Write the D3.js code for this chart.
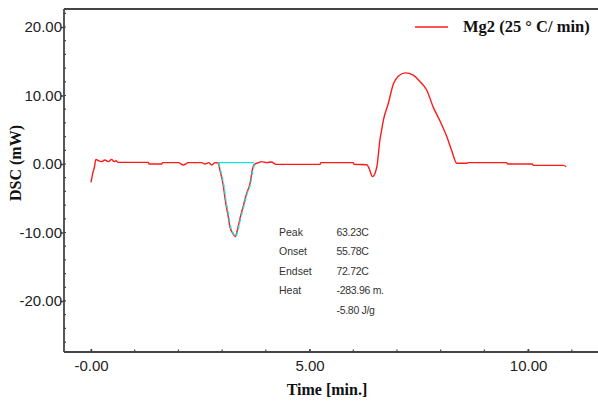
<!DOCTYPE html>
<html>
<head>
<meta charset="utf-8">
<script src="https://cdn.jsdelivr.net/npm/d3@7/dist/d3.min.js"></script>
<style>
  body { margin: 0; background: #fff; }
  svg { display: block; }
</style>
</head>
<body>
<div id="chart"></div>
<script>
// DSC trace
const timeMin = [0.00, 0.04, 0.08, 0.11, 0.17, 0.24, 0.32, 0.40, 0.47, 0.53, 0.57, 0.62,
    1.31, 1.33, 1.62, 1.64, 2.00, 2.11, 2.23, 2.53, 2.61, 2.69, 2.76, 2.84, 2.91,
    2.95, 3.03, 3.07, 3.14, 3.18, 3.24, 3.30, 3.35, 3.41, 3.49, 3.56, 3.64, 3.69, 3.73,
    3.83, 3.90, 4.02, 4.13, 4.23, 5.24, 5.26, 6.00, 6.02, 6.31, 6.36, 6.44, 6.54,
    6.61, 6.65, 6.69, 6.80, 6.92, 7.03, 7.19, 7.38, 7.53, 7.68, 7.83, 7.99, 8.14, 8.25, 8.37,
    8.60, 8.62, 9.51, 9.53, 10.10, 10.12, 10.81, 10.87];
const dscMw = [-2.67, -1.36, -0.40, 0.68, 0.48, 0.34, 0.58, 0.34, 0.68, 0.34, 0.48, 0.24,
    0.24, 0.00, 0.00, 0.20, 0.20, -0.15, 0.20, 0.20, 0.00, 0.20, -0.15, 0.20, 0.15,
    -0.9, -3.3, -5.2, -7.7, -9.2, -10.1, -10.6, -9.6, -7.9, -6.0, -4.3, -2.8, -0.9, -0.1,
    0.20, 0.34, 0.20, 0.30, -0.05, -0.05, 0.20, 0.20, -0.05, -0.10, -0.6, -1.85, -0.4,
    3.5, 5.0, 6.4, 8.8, 11.7, 12.8, 13.3, 12.95, 12.0, 10.8, 8.3, 6.2, 4.0, 2.0, 0.10,
    0.10, 0.20, 0.20, 0.00, 0.00, -0.20, -0.20, -0.40];

// integration of the melting peak
const peakStart = 2.91;
const peakEnd = 3.73;
const peakBaseline = 0.2;

const xTicks = [0, 5, 10];
const xTickLabels = ['-0.00', '5.00', '10.00'];
const yTicks = [-20, -10, 0, 10, 20];
const yTickLabels = ['-20.00', '-10.00', '0.00', '10.00', '20.00'];

const peakLabels = ['Peak', 'Onset', 'Endset', 'Heat', ''];
const peakValues = ['63.23C', '55.78C', '72.72C', '-283.96 m.', '-5.80 J/g'];

const legendLabel = 'Mg2 (25 \u00B0 C/ min)';

const width = 598, height = 403;
const margin = { top: 9, right: 0, bottom: 51, left: 64 };
const graphWidth = width - margin.left - margin.right;
const graphHeight = height - margin.top - margin.bottom;

const svg = d3.select('#chart').append('svg').attr('width', width).attr('height', height);
const graph = svg.append('g').attr('transform', `translate(${margin.left}, ${margin.top})`);

const xScale = d3.scaleLinear().domain([-0.618, 11.6]).range([0, graphWidth]);
const yScale = d3.scaleLinear().domain([-27.45, 22.63]).range([graphHeight, 0]);

const axisColor = '#444';
const tickFont = '"Liberation Sans", Arial, sans-serif';
const titleFont = '"Liberation Serif", "Times New Roman", serif';

// minor ticks
graph.append('g')
    .selectAll('line')
    .data(d3.range(-26, 23, 2))
    .join('line')
    .attr('x1', 0).attr('x2', 2)
    .attr('y1', (d) => yScale(d)).attr('y2', (d) => yScale(d))
    .attr('stroke', axisColor).attr('stroke-width', 1.2);

graph.append('g')
    .selectAll('line')
    .data(d3.range(0, 12, 1))
    .join('line')
    .attr('x1', (d) => xScale(d)).attr('x2', (d) => xScale(d))
    .attr('y1', graphHeight).attr('y2', graphHeight - 2.5)
    .attr('stroke', axisColor).attr('stroke-width', 1.2);

const yAxis = graph.append('g')
    .call(d3.axisLeft(yScale).tickValues(yTicks).tickSize(3).tickPadding(-1)
        .tickFormat((d, i) => yTickLabels[i]));
const xAxis = graph.append('g')
    .attr('transform', `translate(0, ${graphHeight})`)
    .call(d3.axisBottom(xScale).tickValues(xTicks).tickSize(0).tickPadding(8)
        .tickFormat((d, i) => xTickLabels[i]));

[xAxis, yAxis].forEach((a) => {
    a.select('.domain').attr('stroke', axisColor).attr('stroke-width', 1.8);
    a.selectAll('.tick line').attr('stroke', axisColor).attr('stroke-width', 1.5);
    a.selectAll('.tick text').attr('fill', '#222').style('font-family', tickFont).style('font-size', '15px');
});
yAxis.select('.domain').attr('d', `M0,0V${graphHeight}`);
xAxis.select('.domain').attr('d', `M0,0H${graphWidth}`);
xAxis.selectAll('.tick').append('line')
    .attr('y2', -3).attr('stroke', axisColor).attr('stroke-width', 1.5);

// top frame
graph.append('line')
    .attr('x1', 0).attr('x2', graphWidth).attr('y1', 0).attr('y2', 0)
    .attr('stroke', axisColor).attr('stroke-width', 1.8);

// curve
const points = timeMin.map((t, i) => ({ t, v: dscMw[i] }));
const line = d3.line().curve(d3.curveMonotoneX).x((d) => xScale(d.t)).y((d) => yScale(d.v));

graph.append('path')
    .datum(points)
    .attr('d', line)
    .attr('fill', 'none')
    .attr('stroke', '#ff1a1a')
    .attr('stroke-width', 1.4)
    .attr('stroke-linejoin', 'round');

const peakPoints = points.filter((d) => d.t >= peakStart && d.t <= peakEnd);
graph.append('path')
    .datum(peakPoints)
    .attr('d', line)
    .attr('fill', 'none')
    .attr('stroke', '#19e0e0')
    .attr('stroke-width', 1.4)
    .attr('stroke-dasharray', '4,3')
    .attr('transform', 'translate(0.6, 0)');

graph.append('line')
    .attr('x1', xScale(peakStart)).attr('x2', xScale(peakEnd))
    .attr('y1', yScale(peakBaseline)).attr('y2', yScale(peakBaseline))
    .attr('stroke', '#19e0e0').attr('stroke-width', 1.4);

// peak annotation
const notes = graph.append('g')
    .style('font-family', tickFont).style('font-size', '10.5px').attr('fill', '#333');
notes.selectAll('text.lbl')
    .data(peakLabels)
    .join('text')
    .attr('class', 'lbl')
    .attr('x', 279 - margin.left)
    .attr('y', (d, i) => 235.5 - margin.top + i * 19.5)
    .text((d) => d);
notes.selectAll('text.val')
    .data(peakValues)
    .join('text')
    .attr('class', 'val')
    .attr('x', 336.5 - margin.left)
    .attr('y', (d, i) => 235.5 - margin.top + i * 19.5)
    .attr('letter-spacing', -0.3)
    .text((d) => d);

// legend
svg.append('line')
    .attr('x1', 415).attr('x2', 448).attr('y1', 27).attr('y2', 27)
    .attr('stroke', '#ff1a1a').attr('stroke-width', 1.4);
svg.append('text')
    .attr('x', 463).attr('y', 32)
    .style('font-family', titleFont).style('font-weight', 'bold').style('font-size', '16.5px')
    .attr('fill', '#111')
    .text(legendLabel);

// axis titles
svg.append('text')
    .attr('transform', 'translate(21, 163) rotate(-90)')
    .attr('text-anchor', 'middle')
    .style('font-family', titleFont).style('font-weight', 'bold').style('font-size', '16px')
    .attr('fill', '#111')
    .text('DSC (mW)');
svg.append('text')
    .attr('x', 327).attr('y', 395)
    .attr('text-anchor', 'middle')
    .style('font-family', titleFont).style('font-weight', 'bold').style('font-size', '16px')
    .attr('fill', '#111')
    .text('Time [min.]');
</script>
</body>
</html>
